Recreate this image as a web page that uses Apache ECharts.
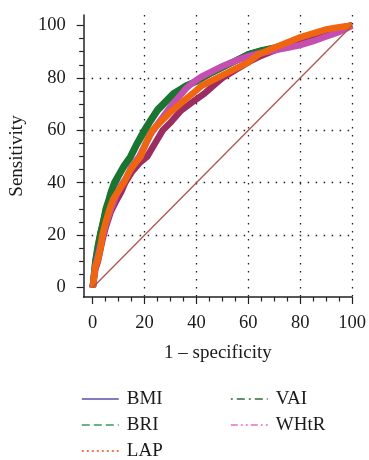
<!DOCTYPE html>
<html><head><meta charset="utf-8">
<script src="https://cdn.jsdelivr.net/npm/echarts@6/dist/echarts.min.js"></script>
<style>html,body{margin:0;padding:0;background:#fff}#c{width:369px;height:460px}</style>
</head><body><div id="c"></div>
<script>
const seriesNames = ['BMI', 'BRI', 'LAP', 'VAI', 'WHtR'];
const xTicks = [0, 20, 40, 60, 80, 100];
const yTicks = [0, 20, 40, 60, 80, 100];

const bmi = [[0,0],[1,7],[2,10],[3.7,18],[5,23],[7,29],[9,33],[11,36.5],[12.5,40],[15,44],[18,47.5],[21,50],[24,55],[27,60],[30,63],[34,67.5],[38,70.5],[43,74],[47,77.5],[50,80],[55,83],[60,86],[65,88.5],[70,90.5],[75,92.5],[80,94.5],[85,96],[90,97.5],[95,98.8],[100,100]];
const bri = [[0,0],[0.5,5],[1,9.5],[2,15.5],[3,20.5],[4,25],[5,29],[6,32.5],[7,36],[8.5,39.5],[10,42.5],[12,46],[14.5,49.5],[17,54.5],[20,59.5],[22,63],[25,67.5],[28,70.5],[31,73.5],[36,77],[40,78.7],[45,81.5],[50,84],[55,86.5],[60,89],[65,90.3],[70,91.3],[75,92.8],[80,94.8],[85,96.3],[90,97.8],[95,98.8],[100,100]];
const lap = [[0,0],[0.5,4],[1,8],[2,10.5],[3,15],[3.7,20],[5,25],[6.5,30],[8,34],[10,37],[12,40],[14,44],[16,47],[18.5,50],[20.5,55],[23,60],[26,63],[30,67],[33,69.5],[36,72],[38.5,74],[42,77],[48,80],[52,82],[56,84],[60,86],[64,89],[70,91.5],[75,93.5],[80,95.5],[85,97],[90,98.5],[95,99.3],[100,100]];
const vai = [[0,0],[0.5,5],[1,10],[2,16],[3,21],[4,25],[5,30],[6,33],[7,36.5],[8.3,40],[10,43],[12,46.5],[14.5,50],[17,55],[19.8,60],[22,63.5],[25,68],[28,71],[31,74],[36,77],[40,78.7],[45,81.5],[50,84],[55,86.5],[60,89],[65,90.5],[70,91.5],[75,93],[80,95],[85,96.5],[90,98],[95,99],[100,100]];
const whtr = [[0,0],[1,8],[2,12],[3.7,19],[5,24],[7,30],[9,35],[11,39],[13,42],[15,46],[18,50],[20,54],[22,58],[24,61],[27,65],[30,69],[33,72.5],[36,76],[39,78.5],[42,80.5],[46,82.5],[50,84.5],[55,86.5],[60,88.3],[65,89.5],[70,90.5],[75,91.5],[80,92.5],[85,94],[90,95.8],[95,97.5],[100,100]];
const reference = [[0,0],[100,100]];

const plotColors = {BMI:'#9b2d62', BRI:'#22823a', LAP:'#f0650f', VAI:'#1b7430', WHtR:'#c54fb0'};
const legendStyles = {
  BMI: {color:'#5b4fa8', type:'solid'},
  BRI: {color:'#3d9a55', type:[8,4]},
  LAP: {color:'#f04a1a', type:[2,3]},
  VAI: {color:'#2f6b3c', type:[2,4,8,4]},
  WHtR:{color:'#e070c8', type:[7,3,2,3,2,3]}
};
const font = 'Liberation Serif';

const dataByName = {BMI:bmi, BRI:bri, LAP:lap, VAI:vai, WHtR:whtr};
const drawOrder = ['BRI','VAI','BMI','WHtR','LAP'];

function legendItems(names){
  return names.map(n => ({
    name: n,
    lineStyle: {color: legendStyles[n].color, type: legendStyles[n].type, width: 1.6},
    itemStyle: {color: 'rgba(0,0,0,0)', borderWidth: 0, opacity: 0}
  }));
}

const chart = echarts.init(document.getElementById('c'), null, {renderer:'canvas'});
const axisCommon = {
  axisLine: {show:true, onZero:false, lineStyle:{color:'#222', width:1.5}},
  axisTick: {show:true, inside:false, length:7, customValues: xTicks, lineStyle:{color:'#222', width:1.2}},
  minorTick: {show:true, splitNumber:4, length:4.5, lineStyle:{color:'#222', width:1.2}},
  splitLine: {show:true, showMinLine:false, lineStyle:{color:'#222', width:1.3, type:[1.5,6.5]}},
  nameTextStyle: {fontFamily: font, fontSize: 19, color:'#1a1a1a'}
};
const legendCommon = {
  orient:'vertical', top: 389, height: 75, padding: 0, itemWidth: 37, itemHeight: 14, itemGap: 6,
  textStyle:{fontFamily: font, fontSize: 19, color:'#1a1a1a', lineHeight: 20, padding:[0,0,0,3]},
  selectedMode: false
};
chart.setOption({
  animation: false,
  backgroundColor: '#fff',
  grid: {left: 82, right: 15, top: 15, bottom: 163, containLabel: false},
  xAxis: Object.assign({}, axisCommon, {
    type: 'value', min: -3.5, max: 100, splitNumber: 5,
    name: '1 – specificity', nameLocation: 'middle', nameGap: 47,
    axisLabel: {customValues: xTicks, margin: 17, fontFamily: font, fontSize: 18.5, color:'#1a1a1a'},
    splitLine: Object.assign({}, axisCommon.splitLine, {showMaxLine: true})
  }),
  yAxis: Object.assign({}, axisCommon, {
    type: 'value', min: -3.6, max: 104, splitNumber: 5,
    name: 'Sensitivity', nameLocation: 'middle', nameGap: 54,
    axisTick: Object.assign({}, axisCommon.axisTick, {customValues: yTicks}),
    axisLabel: {customValues: yTicks, margin: 18, fontFamily: font, fontSize: 18.5, color:'#1a1a1a'},
    splitLine: Object.assign({}, axisCommon.splitLine, {showMaxLine: false})
  }),
  legend: [
    Object.assign({}, legendCommon, {left: 81, data: legendItems(['BMI','BRI','LAP'])}),
    Object.assign({}, legendCommon, {left: 230, data: legendItems(['VAI','WHtR'])})
  ],
  series: drawOrder.map(n => ({
    name: n, type: 'line', data: dataByName[n], symbol: 'none', clip: false,
    lineStyle: {color: plotColors[n], width: 6.5, join: 'miter', cap: 'butt'},
    itemStyle: {color: plotColors[n]}
  })).concat([{
    name: 'reference', type: 'line', data: reference, symbol: 'none', clip: false,
    lineStyle: {color: '#b3544f', width: 1.3}, silent: true
  }])
});
</script>
</body></html>
